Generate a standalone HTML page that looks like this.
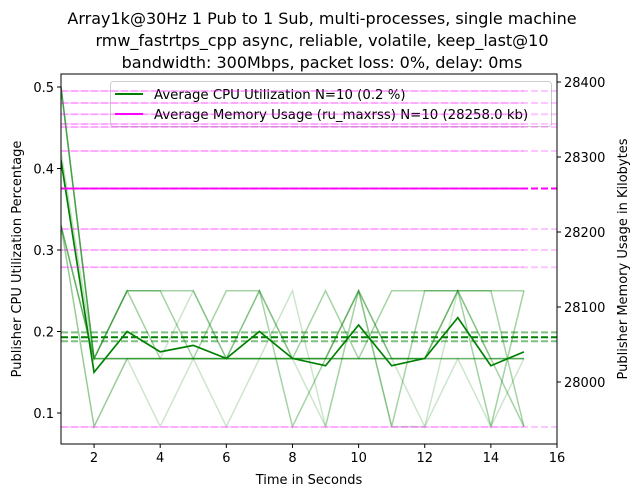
<!DOCTYPE html>
<html><head><meta charset="utf-8"><style>
html,body{margin:0;padding:0;background:#fff;}
svg text{font-family:"DejaVu Sans","Liberation Sans",sans-serif;fill:#000;}
</style></head><body>
<svg id="chart" width="640" height="497" viewBox="0 0 640 497" xmlns="http://www.w3.org/2000/svg">
<g>
<text x="322" y="24" font-size="16" text-anchor="middle">Array1k@30Hz 1 Pub to 1 Sub, multi-processes, single machine</text>
<text x="322" y="46" font-size="16" text-anchor="middle">rmw_fastrtps_cpp async, reliable, volatile, keep_last@10</text>
<text x="322" y="68" font-size="16" text-anchor="middle">bandwidth: 300Mbps, packet loss: 0%, delay: 0ms</text>
</g>
<g id="plot"></g>
</svg>
<script>
const times=[1,2,3,4,5,6,7,8,9,10,11,12,13,14,15];
// CPU runs in twelfths (t=2..15), t=1 as fraction
const cpuT1=[0.5,0.5,0.5,0.5,0.42,0.33,0.33,0.33,0.33,0.33];
const cpuRun0=[2,3,2,3,2,3,2,1,3,2,2,3,1,3];
const cpuRun1=[2,3,2,2,2,3,2,2,3,2,2,3,2,2];
const cpuRun2=[2,3,3,2,2,2,2,3,2,2,2,3,2,1];
const cpuRun3=[2,3,3,3,2,2,2,2,3,1,3,3,3,1];
const cpuRun4=[2,2,2,2,2,2,2,2,2,2,2,2,2,2];
const cpuRun5=[2,2,2,2,2,2,2,2,2,2,2,2,2,2];
const cpuRun6=[2,2,2,2,3,3,1,2,2,3,3,3,3,3];
const cpuRun7=[2,2,2,2,1,2,3,1,3,1,1,2,1,3];
const cpuRun8=[1,2,1,2,2,3,2,2,2,2,1,3,1,2];
const cpuRun9=[1,2,2,2,2,2,2,2,3,2,2,2,2,2];
const cpuAvg=[0.41,0.15,0.2,0.175,0.183,0.167,0.2,0.167,0.158,0.208,0.158,0.167,0.217,0.158,0.175];
const cpuMeanLines=[0.199,0.188];
const cpuMean=0.193;
const memRuns=[28388,28372,28357,28344,28340,28308,28204,28176,28153,27940];
const memAvg=28258;
const xTicks=[2,4,6,8,10,12,14,16];
const yTicks=[0.1,0.2,0.3,0.4,0.5];
const y2Ticks=[28000,28100,28200,28300,28400];

const L=61,R=557,T=74,B=444;
const X=v=>L+(v-1)*(R-L)/15;
const Y=v=>413+(0.1-v)*815;
const Y2=v=>382-(v-28000)*0.75;
const NS="http://www.w3.org/2000/svg";
const plot=document.getElementById('plot');
function mk(tag,attrs,parent){const e=document.createElementNS(NS,tag);for(const k in attrs)e.setAttribute(k,attrs[k]);(parent||plot).appendChild(e);return e;}

const runs=[cpuRun0,cpuRun1,cpuRun2,cpuRun3,cpuRun4,cpuRun5,cpuRun6,cpuRun7,cpuRun8,cpuRun9];
const alphas=[0.2,0.2,0.35,0.35,0.25,0.25,0.35,0.2,0.2,0.25];
const clip=mk('clipPath',{id:'pc'});mk('rect',{x:L,y:T,width:R-L,height:B-T},clip);
const g=mk('g',{'clip-path':'url(#pc)'});


runs.forEach((r,i)=>{
  const vals=[cpuT1[i]].concat(r.map(v=>v/12));
  const p=mk('polyline',{points:vals.map((v,j)=>X(times[j])+','+Y(v)).join(' '),fill:'none',stroke:'green','stroke-opacity':alphas[i],'stroke-width':1.5},g);
  
  
});
cpuMeanLines.forEach(v=>{
  const l=mk('line',{x1:L,x2:R,y1:Y(v),y2:Y(v),stroke:'green','stroke-opacity':0.5,'stroke-width':2,'stroke-dasharray':'7,3'},g);
  
  
});
const ml=mk('line',{x1:L,x2:R,y1:Y(cpuMean),y2:Y(cpuMean),stroke:'green','stroke-width':2,'stroke-dasharray':'7,3'},g);


const av=mk('polyline',{points:cpuAvg.map((v,j)=>X(times[j])+','+Y(v)).join(' '),fill:'none',stroke:'green','stroke-width':1.7},g);



// legend (below memory axis)
const lg=mk('g',{});


mk('rect',{x:110.5,y:81.5,width:441,height:45,rx:3,fill:'#fff','fill-opacity':0.8,stroke:'#ccc'},lg);
mk('line',{x1:115,x2:143,y1:94,y2:94,stroke:'green','stroke-width':2},lg);
mk('text',{x:154,y:99,'font-size':13.3},lg).textContent='Average CPU Utilization N=10 (0.2 %)';
mk('line',{x1:115,x2:143,y1:114,y2:114,stroke:'magenta','stroke-width':2},lg);
mk('text',{x:154,y:119,'font-size':13.3},lg).textContent='Average Memory Usage (ru_maxrss) N=10 (28258.0 kb)';

const g2=mk('g',{'clip-path':'url(#pc)'});


memRuns.forEach(v=>{
  const a=mk('line',{x1:X(1),x2:X(15),y1:Y2(v),y2:Y2(v),stroke:'magenta','stroke-opacity':0.2,'stroke-width':1.5},g2);
  
  
  const b=mk('line',{x1:L,x2:R,y1:Y2(v),y2:Y2(v),stroke:'magenta','stroke-opacity':0.22,'stroke-width':2,'stroke-dasharray':'7,3'},g2);
  
  
});
const ma=mk('line',{x1:X(1),x2:X(15),y1:Y2(memAvg),y2:Y2(memAvg),stroke:'magenta','stroke-width':1.7},g2);


const md=mk('line',{x1:L,x2:R,y1:Y2(memAvg),y2:Y2(memAvg),stroke:'magenta','stroke-width':2,'stroke-dasharray':'7,3'},g2);



// axes
const fr=mk('rect',{x:L,y:T,width:R-L,height:B-T,fill:'none',stroke:'#000','stroke-width':1});


xTicks.forEach(v=>{
  mk('line',{x1:X(v),x2:X(v),y1:B,y2:B+4,stroke:'#000'});
  const t=mk('text',{x:X(v),y:B+18,'font-size':13,'text-anchor':'middle'});t.textContent=v;
  
  
});
yTicks.forEach(v=>{
  mk('line',{x1:L-4,x2:L,y1:Y(v),y2:Y(v),stroke:'#000'});
  const t=mk('text',{x:L-7,y:Y(v)+5,'font-size':13,'text-anchor':'end'});t.textContent=v.toFixed(1);
  
  
});
y2Ticks.forEach(v=>{
  mk('line',{x1:R,x2:R+4,y1:Y2(v),y2:Y2(v),stroke:'#000'});
  const t=mk('text',{x:R+7,y:Y2(v)+5,'font-size':13});t.textContent=v;
  
  
});
const xt=mk('text',{x:(L+R)/2,y:484,'font-size':13,'text-anchor':'middle'});xt.textContent='Time in Seconds';


const yt=mk('text',{x:0,y:0,'font-size':13,'text-anchor':'middle',transform:`translate(21,${(T+B)/2}) rotate(-90)`});yt.textContent='Publisher CPU Utilization Percentage';


const y2t=mk('text',{x:0,y:0,'font-size':13,'text-anchor':'middle',transform:`translate(627,${(T+B)/2}) rotate(-90)`});y2t.textContent='Publisher Memory Usage in Kilobytes';


</script>
</body></html>
